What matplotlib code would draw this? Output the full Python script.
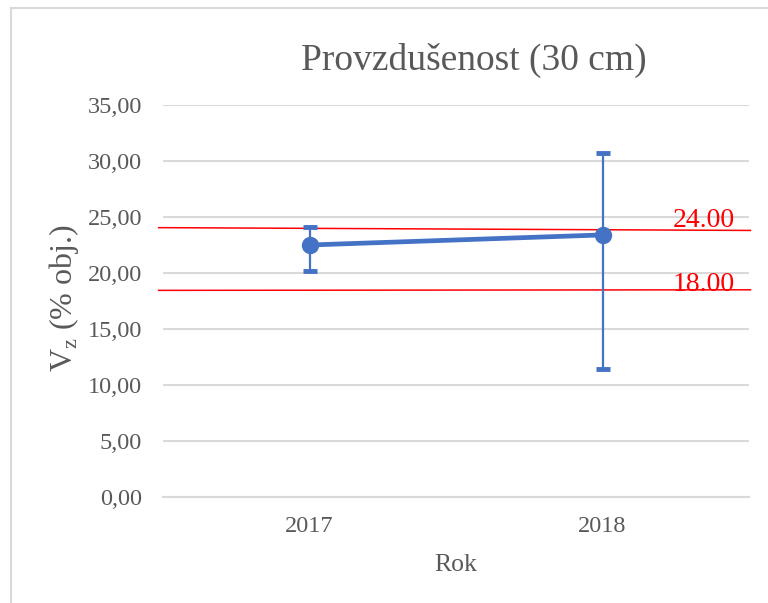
import matplotlib
matplotlib.use("Agg")
import matplotlib.pyplot as plt
from matplotlib.lines import Line2D

# ---- data ----
years = ["2017", "2018"]
means = [22.5, 23.4]
err_low = [20.2, 11.45]
err_high = [24.15, 30.7]
limit_labels = ["24.00", "18.00"]
limit_left = [24.05, 18.45]
limit_right = [23.8, 18.5]
yticks = [0, 5, 10, 15, 20, 25, 30, 35]

GRAY = "#595959"
BLUE = "#4472C4"
RED = "#FF0000"
GRID = "#D9D9D9"
FONT = ["Liberation Serif", "DejaVu Serif"]
plt.rcParams["font.family"] = FONT

fig = plt.figure(figsize=(7.68, 6.03), dpi=100)
W, H = 768, 603
ax = fig.add_axes([163 / W, 1 - 497 / H, (749 - 163) / W, (497 - 105) / H])

x = list(range(len(years)))
lower = [m - l for m, l in zip(means, err_low)]
upper = [h - m for m, h in zip(means, err_high)]

ax.errorbar(x, means, yerr=[lower, upper], fmt="none", ecolor=BLUE,
            elinewidth=1.6, capsize=5, capthick=3.5, zorder=3)
ax.plot(x, means, color=BLUE, lw=3.4, marker="o", ms=11.5, zorder=4,
        solid_capstyle="round")

ax.set_xlim(-0.5, len(years) - 0.5)
ax.set_ylim(0, 35)
ax.set_yticks(yticks)
ax.set_yticklabels([f"{v:.2f}".replace(".", ",") for v in yticks])
ax.set_xticks(x)
ax.set_xticklabels(years)
ax.yaxis.grid(True, color=GRID, lw=1.5)
ax.set_axisbelow(True)
for s in ax.spines.values():
    s.set_visible(False)
ax.spines["bottom"].set_visible(True)
ax.spines["bottom"].set_color(GRID)
ax.spines["bottom"].set_linewidth(1.5)
ax.tick_params(axis="both", length=0, labelsize=17.5, labelcolor=GRAY)
ax.tick_params(axis="y", pad=15)
ax.tick_params(axis="x", pad=14)

# limit lines
for lab, yl, yr in zip(limit_labels, limit_left, limit_right):
    ax.plot([-0.515, 1.505], [yl, yr], color=RED, lw=1.1, clip_on=False, zorder=2)
    yb = 24.15 if lab == "24.00" else 18.4
    ax.text(1.452, yb, lab, color=RED, fontsize=20, ha="right", va="baseline",
            zorder=5)

ax.set_title("Provzdušenost (30 cm)", fontsize=27, color=GRAY, pad=25,
             x=(474 - 163) / 586)
ax.set_xlabel("Rok", fontsize=18.5, color=GRAY, labelpad=12)
fig.text(64 / W, 1 - 298 / H, r"V$_\mathregular{z}$ (% obj.)", fontsize=23,
         color=GRAY, rotation=90, ha="center", va="center")

# chart frame
fig.add_artist(Line2D([11 / W, 1], [1 - 8 / H, 1 - 8 / H], color=GRID, lw=1.5,
                      transform=fig.transFigure))
fig.add_artist(Line2D([11 / W, 11 / W], [0, 1 - 8 / H], color=GRID, lw=1.5,
                      transform=fig.transFigure))

fig.savefig("out.png", dpi=100)
